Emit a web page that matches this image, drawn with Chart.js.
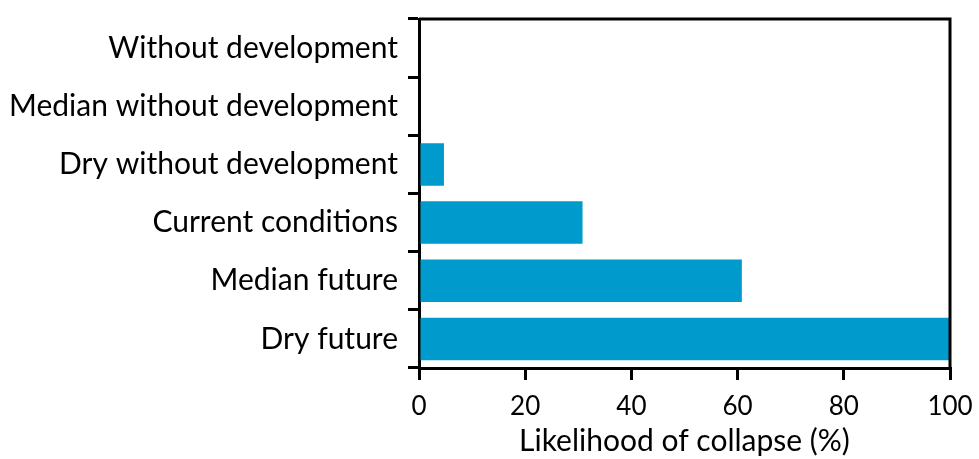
<!DOCTYPE html>
<html><head><meta charset="utf-8">
<script src="https://cdn.jsdelivr.net/npm/chart.js@4/dist/chart.umd.min.js"></script>
<style>html,body{margin:0;padding:0;background:#fff}#wrap{width:979px;height:459px}</style>
</head><body><div id="wrap"><canvas id="c" width="979" height="459"></canvas></div>
<script>
const categories = ["Without development","Median without development","Dry without development","Current conditions","Median future","Dry future"];
const collapseLikelihood = [0, 0, 4.7, 30.8, 60.8, 100];
const xTicks = [0, 20, 40, 60, 80, 100];
const xTitle = "Likelihood of collapse (%)";

const frame = {
  id: 'frame',
  afterDraw(chart) {
    const {ctx, chartArea: a} = chart;
    ctx.save();
    ctx.strokeStyle = '#000';
    ctx.lineWidth = 3;
    ctx.beginPath();
    ctx.moveTo(a.left, a.top);
    ctx.lineTo(a.right, a.top);
    ctx.lineTo(a.right, a.bottom);
    ctx.stroke();
    ctx.restore();
  }
};

new Chart(document.getElementById('c'), {
  type: 'bar',
  data: {
    labels: categories,
    datasets: [{ data: collapseLikelihood, backgroundColor: '#009acd', borderWidth: 0, barPercentage: 0.73, categoryPercentage: 1 }]
  },
  options: {
    indexAxis: 'y',
    responsive: false,
    animation: false,
    layout: { padding: { top: 19, right: 29, left: 0, bottom: 0 } },
    plugins: { legend: { display: false }, tooltip: { enabled: false } },
    scales: {
      y: {
        afterFit(s) { s.width = 419; s.paddingTop = 0; s.paddingBottom = 0; },
        grid: { offset: true, drawOnChartArea: false, color: '#000', lineWidth: 3, tickLength: 11 },
        border: { color: '#000', width: 3 },
        ticks: { color: '#000', padding: 10, font: { family: 'Lato', size: 30 } }
      },
      x: {
        min: 0, max: 100,
        afterFit(s) { s.height = 91; s.paddingLeft = 0; s.paddingRight = 0; },
        afterBuildTicks(s) { s.ticks = xTicks.map(v => ({ value: v })); },
        grid: { drawOnChartArea: false, color: '#000', lineWidth: 3, tickLength: 12 },
        border: { color: '#000', width: 3 },
        ticks: { color: '#000', padding: 11, font: { family: 'Lato', size: 26 } },
        title: { display: true, text: xTitle, color: '#000', padding: { top: 6, bottom: 0 }, font: { family: 'Lato', size: 30 } }
      }
    }
  },
  plugins: [frame]
});
</script></body></html>
